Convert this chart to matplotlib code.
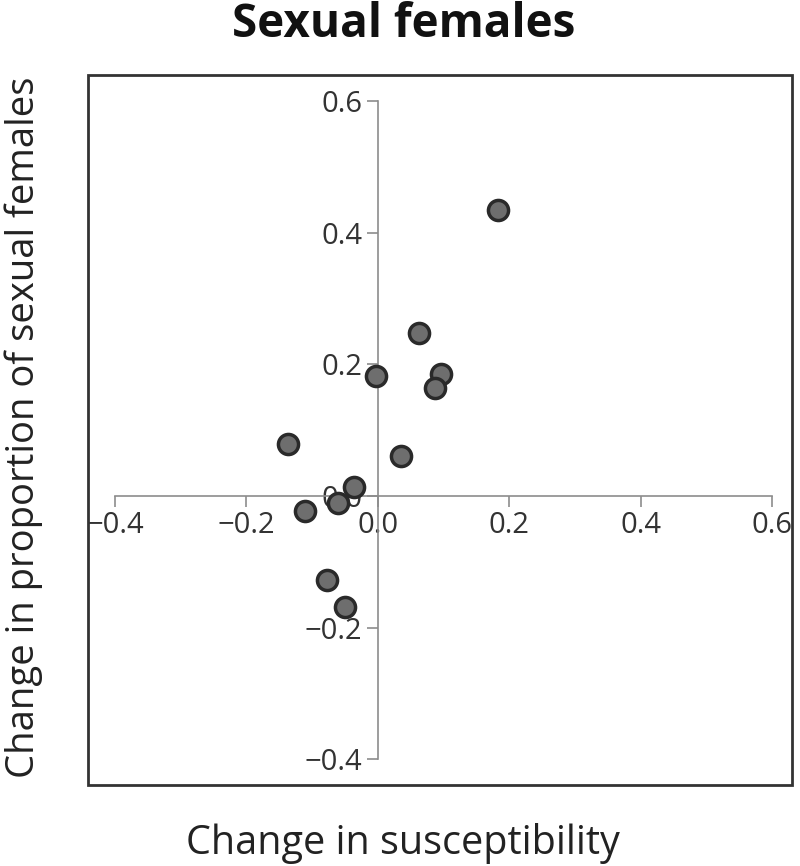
import matplotlib.pyplot as plt
from matplotlib.patches import Rectangle

# values
susceptibility = [0.183, 0.062, 0.096, 0.087, -0.003, 0.035, -0.137, -0.037, -0.061, -0.111, -0.078, -0.050]
sexual_females = [0.435, 0.248, 0.185, 0.164, 0.182, 0.061, 0.079, 0.014, -0.011, -0.023, -0.128, -0.169]
ticks = [-0.4, -0.2, 0.0, 0.2, 0.4, 0.6]
tick_labels = ['\u22120.4', '\u22120.2', '0.0', '0.2', '0.4', '0.6']

plt.rcParams['font.family'] = ['Open Sans', 'DejaVu Sans']

fig = plt.figure(figsize=(8, 8.66), dpi=100)
ax = fig.add_axes([0.11, 0.0935, 0.88, 0.82])

ax.scatter(susceptibility, sexual_females, s=210, c='#6e6e6e', edgecolors='#2a2a2a',
           linewidths=2.5, zorder=3, clip_on=False)

ax.set_xlim(-0.441, 0.630)
ax.set_ylim(-0.439, 0.640)

for side in ['top', 'right']:
    ax.spines[side].set_visible(False)
for side in ['left', 'bottom']:
    ax.spines[side].set_position(('data', 0))
    ax.spines[side].set_color('#8c8c8c')
    ax.spines[side].set_linewidth(1.2)
    ax.spines[side].set_bounds(-0.4, 0.6)

ax.set_xticks(ticks)
ax.set_xticklabels(tick_labels)
ax.set_yticks(ticks)
ax.set_yticklabels(tick_labels)
ax.tick_params(direction='out', length=8, width=1.2, color='#8c8c8c',
               labelsize=21, labelcolor='#333333', pad=3)

# outer frame around the plot
ax.add_patch(Rectangle((0, 0), 1, 1, transform=ax.transAxes, fill=False,
                       edgecolor='#333333', linewidth=2, clip_on=False, zorder=1))

fig.text(0.504, 0.972, 'Sexual females', ha='center', va='center',
         fontsize=33, fontweight='bold', color='#111111')
fig.text(0.504, 0.026, 'Change in susceptibility', ha='center', va='center',
         fontsize=28.5, color='#222222')
fig.text(0.030, 0.507, 'Change in proportion of sexual females', ha='center', va='center',
         rotation=90, fontsize=27.5, color='#222222')

fig.savefig('out.png', dpi=100)
